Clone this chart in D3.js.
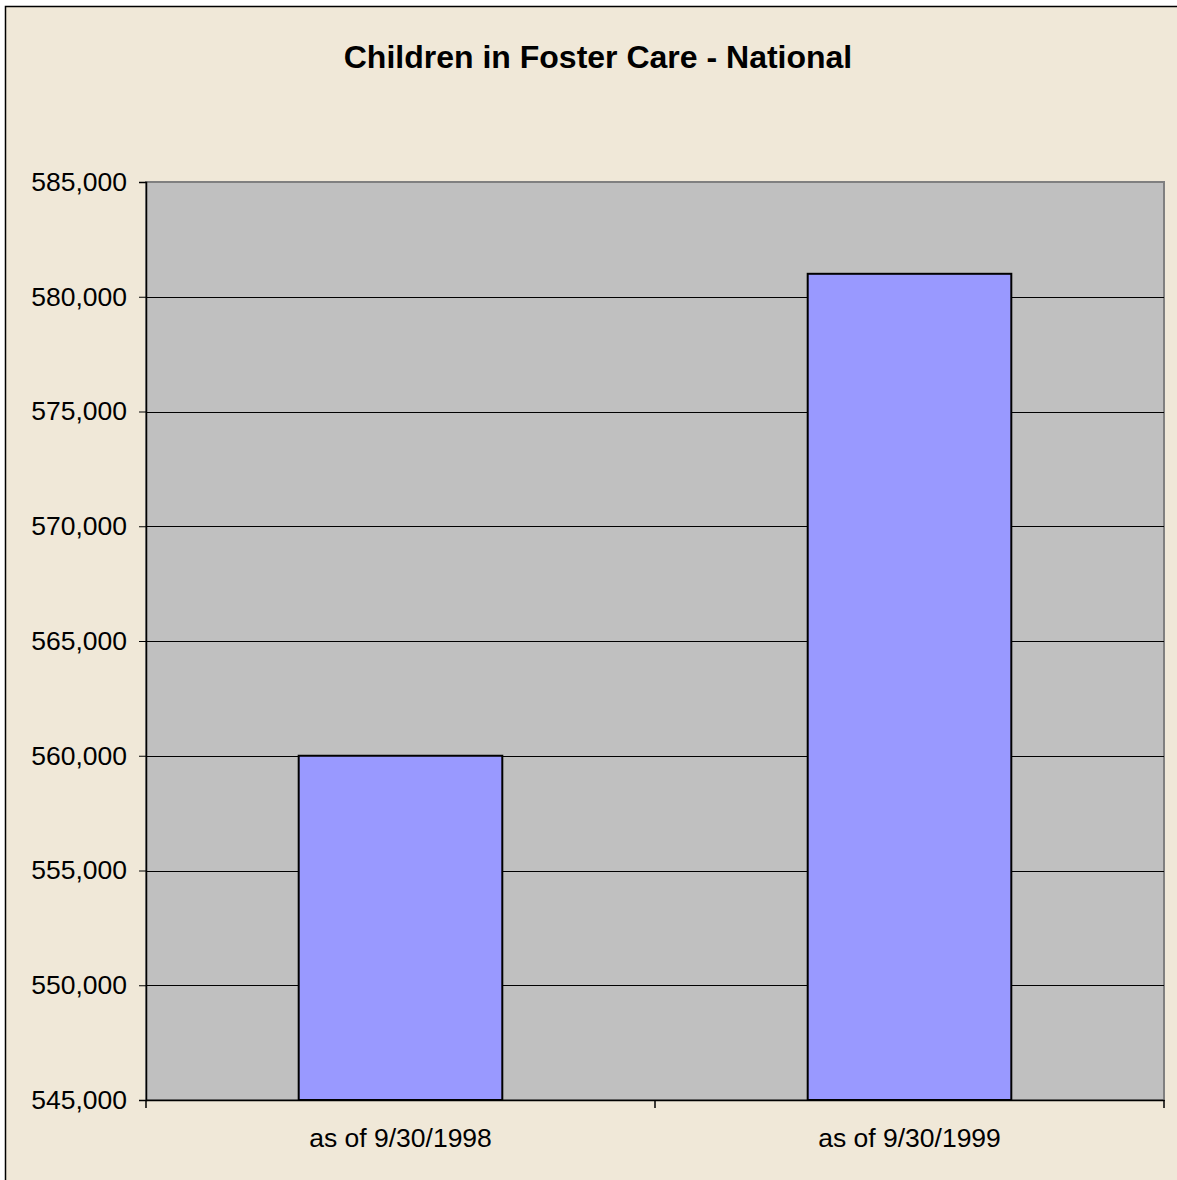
<!DOCTYPE html>
<html><head><meta charset="utf-8">
<script src="https://cdn.jsdelivr.net/npm/d3@7"></script>
<style>html,body{margin:0;padding:0;background:#fff;}svg{display:block;}</style>
</head><body>
<svg id="c" width="1177" height="1180"></svg>
<script>
const title = "Children in Foster Care - National";
const categories = ["as of 9/30/1998", "as of 9/30/1999"];
const values = [560000, 581000];
const yTicks = [545000, 550000, 555000, 560000, 565000, 570000, 575000, 580000, 585000];

const svg = d3.select("#c");
const font = "'Liberation Sans', Arial, sans-serif";
const m = {left:146, top:182, right:1164, bottom:1100};

svg.append("rect").attr("x",5.5).attr("y",6.5).attr("width",1200).attr("height",1200)
  .attr("fill","#F0E8D8").attr("stroke","#000").attr("stroke-width",1.5);

svg.append("text").attr("x",598).attr("y",68).attr("text-anchor","middle")
  .attr("font-family",font).attr("font-weight","bold").attr("font-size",32).text(title);

const x = d3.scaleBand().domain(categories).range([m.left,m.right]).paddingInner(0.6).paddingOuter(0.3);
const xOuter = d3.scaleBand().domain(categories).range([m.left,m.right]);
const y = d3.scaleLinear().domain([545000,585000]).range([m.bottom,m.top]);

svg.append("rect").attr("x",m.left).attr("y",m.top).attr("width",m.right-m.left).attr("height",m.bottom-m.top)
  .attr("fill","#C0C0C0").attr("stroke","#808080").attr("stroke-width",2);

svg.append("g").selectAll("line").data(yTicks.slice(1,-1)).join("line")
  .attr("x1",m.left).attr("x2",m.right).attr("y1",d=>Math.round(y(d))+0.5).attr("y2",d=>Math.round(y(d))+0.5)
  .attr("stroke","#000").attr("stroke-width",1);

svg.append("g").selectAll("rect").data(values).join("rect")
  .attr("x",(d,i)=>x(categories[i])).attr("width",x.bandwidth())
  .attr("y",d=>y(d)).attr("height",d=>m.bottom-y(d))
  .attr("fill","#9999FF").attr("stroke","#000").attr("stroke-width",2);

const yAxis = svg.append("g").attr("transform",`translate(${m.left},0)`)
  .call(d3.axisLeft(y).tickValues(yTicks).tickFormat(d3.format(",")).tickSize(7).tickPadding(12));
yAxis.select(".domain").attr("stroke","#000").attr("stroke-width",1.5);
yAxis.selectAll("text").attr("font-family",font).attr("font-size",26.5).attr("fill","#000");

const xAxis = svg.append("g").attr("transform",`translate(0,${m.bottom})`)
  .call(d3.axisBottom(xOuter).tickSize(0).tickPadding(28));
xAxis.select(".domain").attr("stroke","#000").attr("stroke-width",1.5);
xAxis.selectAll("text").attr("font-family",font).attr("font-size",26.5).attr("fill","#000");
const bounds = [m.left, m.left+xOuter.step(), m.right];
svg.append("g").selectAll("line").data(bounds).join("line")
  .attr("x1",d=>d).attr("x2",d=>d).attr("y1",m.bottom).attr("y2",m.bottom+8)
  .attr("stroke","#000").attr("stroke-width",1.5);
</script>
</body></html>
